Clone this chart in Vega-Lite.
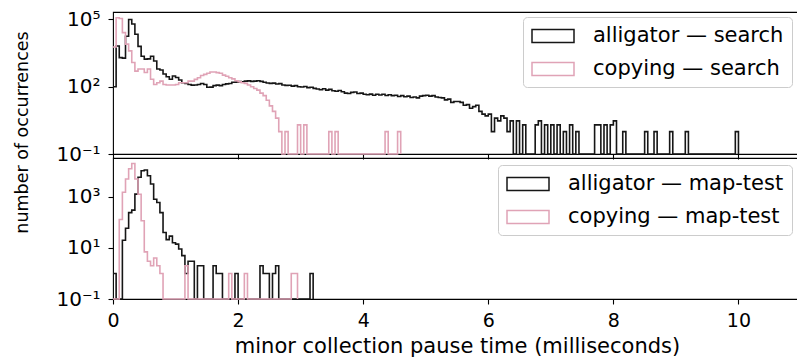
{
  "$schema": "https://vega.github.io/schema/vega-lite/v6.json",
  "padding": {"left": 12, "top": 8, "right": 0, "bottom": 0},
  "background": "white",
  "spacing": 4,
  "bounds": "flush",
  "config": {
    "font": "DejaVu Sans",
    "view": {"stroke": "#000000", "strokeWidth": 1.1},
    "axis": {"domain": false, "grid": false, "tickColor": "#000000", "tickSize": 5, "tickWidth": 1.1, "labelColor": "#000000", "labelFontSize": 19, "labelFont": "DejaVu Sans", "titleColor": "#000000", "titleFont": "DejaVu Sans", "titleFontWeight": "normal", "labelPadding": 7, "labelFlush": false},
    "axisY": {"labelFontSize": 20, "labelPadding": 8},
    "legend": {"title": null, "symbolType": "M-1,-0.65H3.2V0.65H-1Z", "symbolSize": 400, "symbolStrokeWidth": 1.5, "symbolFillColor": "transparent", "labelFontSize": 21, "labelFont": "DejaVu Sans", "labelColor": "#000000", "labelOffset": 40, "padding": 8, "rowPadding": 12, "strokeColor": "#cccccc", "fillColor": "rgba(255,255,255,0.8)", "cornerRadius": 4, "labelLimit": 400}
  },
  "datasets": {
    "as": [
      {"x":0,"n":100},{"x":0.05,"n":6600},{"x":0.1,"n":2000},{"x":0.15,"n":1900},{"x":0.2,"n":18000},{"x":0.25,"n":100000},{"x":0.3,"n":63000},{"x":0.35,"n":22000},{"x":0.4,"n":6300},{"x":0.45,"n":2300},
      {"x":0.5,"n":1700},{"x":0.55,"n":1750},{"x":0.6,"n":2300},{"x":0.65,"n":1400},{"x":0.7,"n":620},{"x":0.75,"n":560},{"x":0.8,"n":370},{"x":0.85,"n":280},{"x":0.9,"n":215},{"x":0.95,"n":300},
      {"x":1,"n":260},{"x":1.05,"n":200},{"x":1.1,"n":150},{"x":1.15,"n":140},{"x":1.2,"n":126},{"x":1.25,"n":118},{"x":1.3,"n":120},{"x":1.35,"n":126},{"x":1.4,"n":140},{"x":1.45,"n":126},
      {"x":1.5,"n":95},{"x":1.55,"n":96},{"x":1.6,"n":112},{"x":1.65,"n":118},{"x":1.7,"n":112},{"x":1.75,"n":126},{"x":1.8,"n":135},{"x":1.85,"n":140},{"x":1.9,"n":158},{"x":1.95,"n":160},
      {"x":2,"n":170},{"x":2.05,"n":166},{"x":2.1,"n":178},{"x":2.15,"n":182},{"x":2.2,"n":174},{"x":2.25,"n":178},{"x":2.3,"n":186},{"x":2.35,"n":174},{"x":2.4,"n":158},{"x":2.45,"n":148},
      {"x":2.5,"n":141},{"x":2.55,"n":145},{"x":2.6,"n":132},{"x":2.65,"n":138},{"x":2.7,"n":120},{"x":2.75,"n":115},{"x":2.8,"n":117},{"x":2.85,"n":107},{"x":2.9,"n":112},{"x":2.95,"n":100},
      {"x":3,"n":98},{"x":3.05,"n":102},{"x":3.1,"n":91},{"x":3.15,"n":95},{"x":3.2,"n":85},{"x":3.25,"n":79},{"x":3.3,"n":74},{"x":3.35,"n":81},{"x":3.4,"n":71},{"x":3.45,"n":76},
      {"x":3.5,"n":66},{"x":3.55,"n":63},{"x":3.6,"n":68},{"x":3.65,"n":60},{"x":3.7,"n":52},{"x":3.75,"n":50},{"x":3.8,"n":56},{"x":3.85,"n":58},{"x":3.9,"n":50},{"x":3.95,"n":52},
      {"x":4,"n":46},{"x":4.05,"n":44},{"x":4.1,"n":47},{"x":4.15,"n":42},{"x":4.2,"n":46},{"x":4.25,"n":43},{"x":4.3,"n":46},{"x":4.35,"n":41},{"x":4.4,"n":44},{"x":4.45,"n":40},
      {"x":4.5,"n":42},{"x":4.55,"n":37},{"x":4.6,"n":40},{"x":4.65,"n":36},{"x":4.7,"n":38},{"x":4.75,"n":33},{"x":4.8,"n":35},{"x":4.85,"n":32},{"x":4.9,"n":38},{"x":4.95,"n":40},
      {"x":5,"n":42},{"x":5.05,"n":38},{"x":5.1,"n":40},{"x":5.15,"n":35},{"x":5.2,"n":33},{"x":5.25,"n":32},{"x":5.3,"n":26},{"x":5.35,"n":28},{"x":5.4,"n":20},{"x":5.45,"n":22},
      {"x":5.5,"n":22},{"x":5.55,"n":20},{"x":5.6,"n":15},{"x":5.65,"n":16},{"x":5.7,"n":11},{"x":5.75,"n":13},{"x":5.8,"n":15},{"x":5.85,"n":8},{"x":5.9,"n":6},{"x":5.95,"n":5},
      {"x":6,"n":6},{"x":6.05,"n":1},{"x":6.1,"n":4},{"x":6.15,"n":3},{"x":6.2,"n":5},{"x":6.25,"n":4},{"x":6.3,"n":1},{"x":6.35,"n":3},{"x":6.4,"n":0},{"x":6.45,"n":3},
      {"x":6.5,"n":0},{"x":6.55,"n":2},{"x":6.6,"n":0},{"x":6.65,"n":0},{"x":6.7,"n":0},{"x":6.75,"n":2},{"x":6.8,"n":3},{"x":6.85,"n":0},{"x":6.9,"n":2},{"x":6.95,"n":0},
      {"x":7,"n":2},{"x":7.05,"n":0},{"x":7.1,"n":2},{"x":7.15,"n":0},{"x":7.2,"n":1},{"x":7.25,"n":0},{"x":7.3,"n":2},{"x":7.35,"n":0},{"x":7.4,"n":1},{"x":7.45,"n":0},
      {"x":7.5,"n":0},{"x":7.55,"n":0},{"x":7.6,"n":0},{"x":7.65,"n":0},{"x":7.7,"n":2},{"x":7.75,"n":2},{"x":7.8,"n":0},{"x":7.85,"n":2},{"x":7.9,"n":0},{"x":7.95,"n":2},
      {"x":8,"n":3},{"x":8.05,"n":0},{"x":8.1,"n":0},{"x":8.15,"n":1},{"x":8.2,"n":0},{"x":8.25,"n":0},{"x":8.3,"n":0},{"x":8.35,"n":0},{"x":8.4,"n":0},{"x":8.45,"n":0},
      {"x":8.5,"n":1},{"x":8.55,"n":0},{"x":8.6,"n":0},{"x":8.65,"n":1},{"x":8.7,"n":0},{"x":8.75,"n":0},{"x":8.8,"n":0},{"x":8.85,"n":0},{"x":8.9,"n":1},{"x":8.95,"n":0},
      {"x":9,"n":0},{"x":9.05,"n":0},{"x":9.1,"n":0},{"x":9.15,"n":1},{"x":9.2,"n":0},{"x":9.25,"n":0},{"x":9.3,"n":0},{"x":9.35,"n":0},{"x":9.4,"n":0},{"x":9.45,"n":0},
      {"x":9.5,"n":0},{"x":9.55,"n":0},{"x":9.6,"n":0},{"x":9.65,"n":0},{"x":9.7,"n":0},{"x":9.75,"n":0},{"x":9.8,"n":0},{"x":9.85,"n":0},{"x":9.9,"n":0},{"x":9.95,"n":1},
      {"x":10,"n":0}
    ],
    "cs": [
      {"x":0,"n":5900},{"x":0.05,"n":120000},{"x":0.1,"n":110000},{"x":0.15,"n":26000},{"x":0.2,"n":8000},{"x":0.25,"n":4000},{"x":0.3,"n":1200},{"x":0.35,"n":500},{"x":0.4,"n":620},{"x":0.45,"n":620},
      {"x":0.5,"n":430},{"x":0.55,"n":620},{"x":0.6,"n":215},{"x":0.65,"n":126},{"x":0.7,"n":150},{"x":0.75,"n":178},{"x":0.8,"n":126},{"x":0.85,"n":120},{"x":0.9,"n":120},{"x":0.95,"n":120},
      {"x":1,"n":126},{"x":1.05,"n":151},{"x":1.1,"n":151},{"x":1.15,"n":151},{"x":1.2,"n":178},{"x":1.25,"n":178},{"x":1.3,"n":214},{"x":1.35,"n":251},{"x":1.4,"n":316},{"x":1.45,"n":355},
      {"x":1.5,"n":398},{"x":1.55,"n":457},{"x":1.6,"n":457},{"x":1.65,"n":427},{"x":1.7,"n":398},{"x":1.75,"n":331},{"x":1.8,"n":295},{"x":1.85,"n":251},{"x":1.9,"n":224},{"x":1.95,"n":186},
      {"x":2,"n":166},{"x":2.05,"n":151},{"x":2.1,"n":141},{"x":2.15,"n":120},{"x":2.2,"n":100},{"x":2.25,"n":83},{"x":2.3,"n":71},{"x":2.35,"n":52},{"x":2.4,"n":40},{"x":2.45,"n":25},
      {"x":2.5,"n":14},{"x":2.55,"n":8},{"x":2.6,"n":4},{"x":2.65,"n":1},{"x":2.7,"n":0},{"x":2.75,"n":1},{"x":2.8,"n":0},{"x":2.95,"n":2},{"x":3,"n":0},{"x":3.05,"n":2},
      {"x":3.1,"n":0},{"x":3.45,"n":1},{"x":3.5,"n":0},{"x":3.55,"n":1},{"x":3.6,"n":0},{"x":4.35,"n":1},{"x":4.4,"n":0},{"x":4.55,"n":1},{"x":4.6,"n":0}
    ],
    "am": [
      {"x":0,"n":1},{"x":0.05,"n":0},{"x":0.15,"n":20},{"x":0.2,"n":59},{"x":0.25,"n":240},{"x":0.3,"n":300},{"x":0.35,"n":1270},{"x":0.4,"n":5800},{"x":0.45,"n":10500},
      {"x":0.5,"n":11200},{"x":0.55,"n":6700},{"x":0.6,"n":3150},{"x":0.65,"n":800},{"x":0.7,"n":600},{"x":0.75,"n":240},{"x":0.8,"n":40},{"x":0.85,"n":21},{"x":0.9,"n":29},{"x":0.95,"n":16},
      {"x":1,"n":14},{"x":1.05,"n":9},{"x":1.1,"n":5},{"x":1.15,"n":1},{"x":1.2,"n":3},{"x":1.25,"n":3},{"x":1.3,"n":0},{"x":1.35,"n":2},{"x":1.4,"n":2},{"x":1.45,"n":0},
      {"x":1.6,"n":2},{"x":1.65,"n":1},{"x":1.7,"n":1},{"x":1.75,"n":0},{"x":1.95,"n":1},{"x":2,"n":0},{"x":2.35,"n":2},{"x":2.4,"n":1},{"x":2.45,"n":1},{"x":2.5,"n":0},
      {"x":2.55,"n":1},{"x":2.6,"n":2},{"x":2.65,"n":0},{"x":3.15,"n":1},{"x":3.2,"n":0}
    ],
    "cm": [
      {"x":0,"n":0},{"x":0.1,"n":130},{"x":0.15,"n":1500},{"x":0.2,"n":5000},{"x":0.25,"n":12500},{"x":0.3,"n":20000},{"x":0.35,"n":5000},{"x":0.4,"n":1260},{"x":0.45,"n":115},
      {"x":0.5,"n":7},{"x":0.55,"n":3},{"x":0.6,"n":2},{"x":0.65,"n":4},{"x":0.7,"n":2},{"x":0.75,"n":1},{"x":0.8,"n":0},{"x":1.15,"n":2},{"x":1.2,"n":0},
      {"x":1.85,"n":1},{"x":1.9,"n":0},{"x":2.1,"n":1},{"x":2.15,"n":0},{"x":2.85,"n":1},{"x":2.9,"n":1},{"x":2.95,"n":0}
    ]
  },
  "vconcat": [
    {
      "width": 688,
      "height": 142,
      "layer": [
        {
          "data": {"name": "as"},
          "transform": [{"calculate": "max(datum.n, 0.1)", "as": "y"}],
          "mark": {"type": "line", "interpolate": "step-after", "strokeWidth": 1.6},
          "encoding": {
            "x": {"field": "x", "type": "quantitative", "scale": {"domain": [0, 11], "nice": false, "zero": false}, "axis": {"values": [0, 2, 4, 6, 8, 10], "labels": false, "title": null}},
            "y": {"field": "y", "type": "quantitative", "scale": {"type": "log", "domain": [0.1, 216000], "nice": false}, "axis": {"values": [0.1, 100, 100000], "labelExpr": "datum.value >= 1000 ? '10⁵' : datum.value >= 1 ? '10²' : '10⁻¹'", "title": "number of occurrences", "titleFontSize": 17.5, "titleX": -91, "titleY": 120, "titleAngle": 270, "titleAlign": "center", "titleBaseline": "middle"}},
            "color": {"datum": "alligator — search", "type": "nominal", "scale": {"domain": ["alligator — search", "copying — search"], "range": ["#161616", "#e0a3b6"]}, "legend": {"orient": "none", "legendX": 410, "legendY": 5}}
          }
        },
        {
          "data": {"name": "cs"},
          "transform": [{"calculate": "max(datum.n, 0.1)", "as": "y"}],
          "mark": {"type": "line", "interpolate": "step-after", "strokeWidth": 1.6},
          "encoding": {
            "x": {"field": "x", "type": "quantitative"},
            "y": {"field": "y", "type": "quantitative"},
            "color": {"datum": "copying — search", "type": "nominal"}
          }
        }
      ]
    },
    {
      "width": 688,
      "height": 141,
      "layer": [
        {
          "data": {"name": "am"},
          "transform": [{"calculate": "max(datum.n, 0.1)", "as": "y"}],
          "mark": {"type": "line", "interpolate": "step-after", "strokeWidth": 1.6},
          "encoding": {
            "x": {"field": "x", "type": "quantitative", "scale": {"domain": [0, 11], "nice": false, "zero": false}, "axis": {"values": [0, 2, 4, 6, 8, 10], "format": "d", "title": "minor collection pause time (milliseconds)", "titleFontSize": 21, "labelPadding": 7, "titlePadding": 5}},
            "y": {"field": "y", "type": "quantitative", "scale": {"type": "log", "domain": [0.1, 33000], "nice": false}, "axis": {"values": [0.1, 10, 1000], "labelExpr": "datum.value >= 100 ? '10³' : datum.value >= 1 ? '10¹' : '10⁻¹'", "title": null}},
            "color": {"datum": "alligator — map-test", "type": "nominal", "scale": {"domain": ["alligator — map-test", "copying — map-test"], "range": ["#161616", "#e0a3b6"]}, "legend": {"orient": "none", "legendX": 385, "legendY": 7}}
          }
        },
        {
          "data": {"name": "cm"},
          "transform": [{"calculate": "max(datum.n, 0.1)", "as": "y"}],
          "mark": {"type": "line", "interpolate": "step-after", "strokeWidth": 1.6},
          "encoding": {
            "x": {"field": "x", "type": "quantitative"},
            "y": {"field": "y", "type": "quantitative"},
            "color": {"datum": "copying — map-test", "type": "nominal"}
          }
        }
      ]
    }
  ],
  "resolve": {"scale": {"color": "independent"}}
}
